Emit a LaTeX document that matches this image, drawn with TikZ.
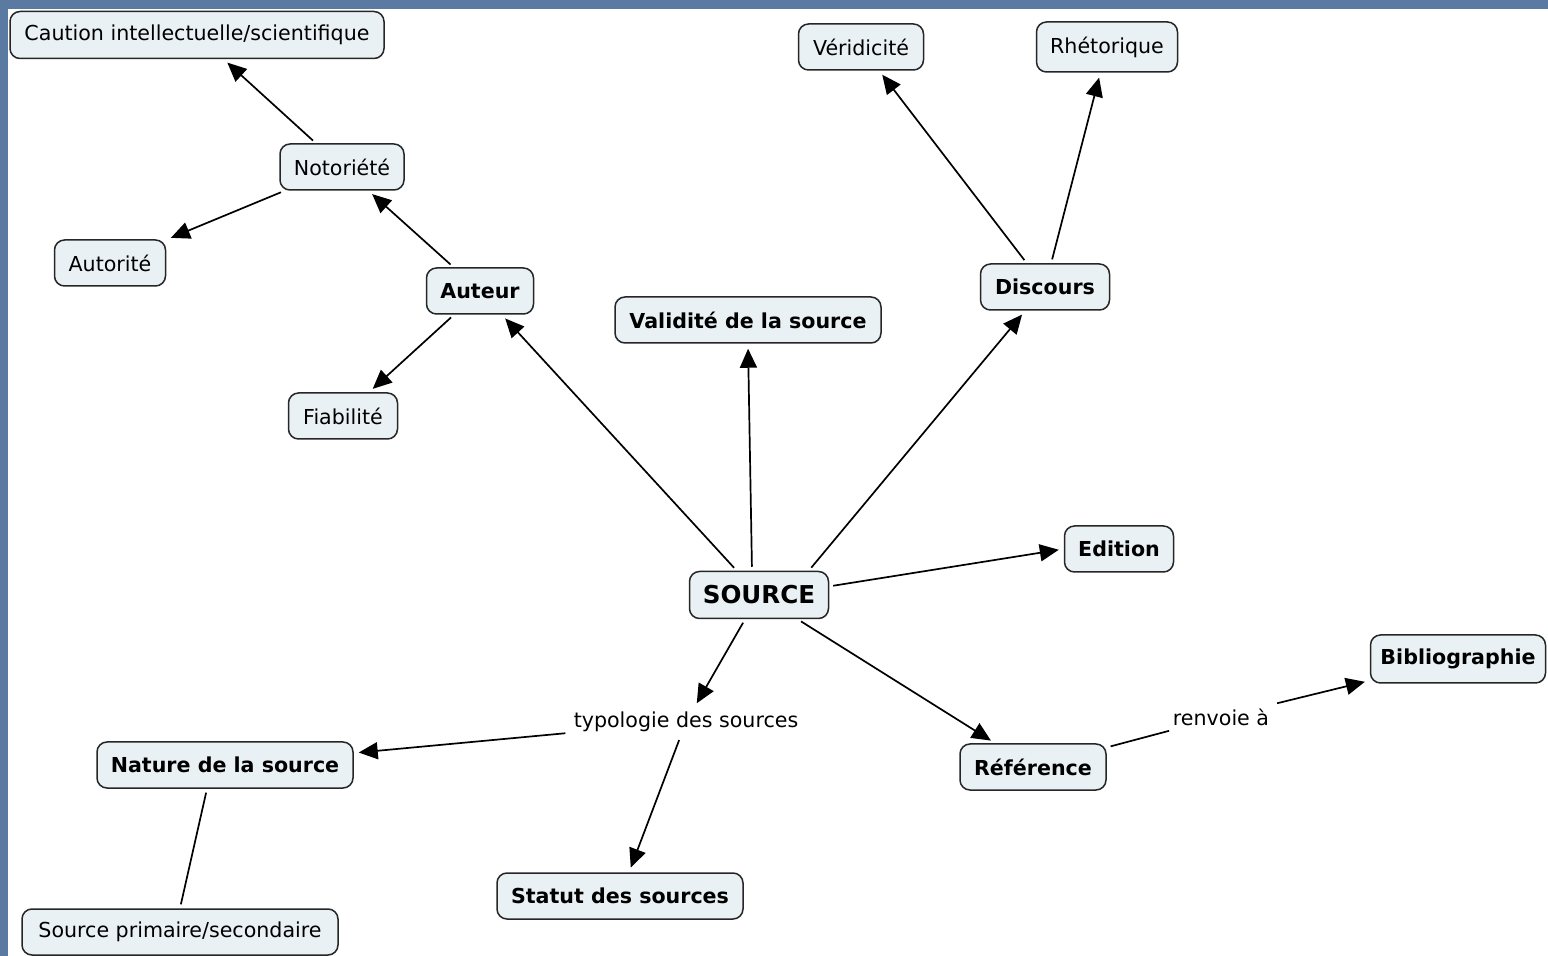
\documentclass[tikz,border=0pt]{standalone}
\usepackage{fontspec}
\setmainfont{DejaVu Sans}
\usepackage{tikz}
\usetikzlibrary{arrows.meta}

\definecolor{bandblue}{RGB}{90,122,162}
\definecolor{boxfill}{RGB}{234,241,245}
\definecolor{boxline}{RGB}{38,38,38}

\tikzset{
  concept/.style={draw=boxline, line width=0.75pt, fill=boxfill, rounded corners=5pt,
    minimum height=23pt, inner sep=2pt, font=\fontsize{10.3}{12}\selectfont},
  keyconcept/.style={concept, font=\fontsize{10.3}{12}\selectfont\bfseries},
  linkword/.style={inner sep=2pt, font=\fontsize{10.3}{12}\selectfont},
  link/.style={line width=0.85pt, -{Triangle[length=9.5pt,width=8.5pt]}, shorten <=2pt, shorten >=2.5pt},
  plainlink/.style={line width=0.85pt, shorten <=2pt, shorten >=2pt}
}

\begin{document}
\begin{tikzpicture}[x=0.5pt,y=-0.5pt]

        \fill[bandblue] (0,0) rectangle (1548,956);
        \fill[white] (8,9) rectangle (1548,956);
        \useasboundingbox (0,0) rectangle (1548,956);

        \node[keyconcept, minimum width=69.5pt, minimum height=23.5pt,
              font=\fontsize{12.3}{14}\selectfont\bfseries] (source) at (759,595) {SOURCE};

        \node[keyconcept, minimum width=53.5pt] (auteur) at (480,291) {Auteur};
        \node[keyconcept, minimum width=133pt] (validite) at (748,320) {Validité de la source};
        \node[keyconcept, minimum width=64.5pt] (discours) at (1045,287) {Discours};
        \node[keyconcept, minimum width=54.5pt] (edition) at (1119,549) {Edition};
        \node[keyconcept, minimum width=73pt] (reference) at (1033,767) {Référence};
        \node[keyconcept, minimum width=87.5pt, minimum height=24pt] (biblio) at (1458,659) {Bibliographie};
        \node[keyconcept, minimum width=128pt] (nature) at (225,765) {Nature de la source};
        \node[keyconcept, minimum width=123pt] (statut) at (620,896) {Statut des sources};

        \node[concept, minimum width=187pt, minimum height=23.5pt] (caution) at (197,35) {Caution intellectuelle/scientifique};
        \node[concept, minimum width=62pt] (notoriete) at (342,167) {Notoriété};
        \node[concept, minimum width=55.5pt] (autorite) at (110,263) {Autorité};
        \node[concept, minimum width=54.5pt] (fiabilite) at (343,416) {Fiabilité};
        \node[concept, minimum width=62.5pt] (veridicite) at (861,47) {Véridicité};
        \node[concept, minimum width=70.5pt, minimum height=25pt] (rhetorique) at (1107,47) {Rhétorique};
        \node[concept, minimum width=158pt] (primaire) at (180,932) {Source primaire/secondaire};

        \node[linkword] (typologie) at (686,722) {typologie des sources};
        \node[linkword] (renvoie) at (1221,717) {renvoie à};

        \foreach \from/\to in {source/auteur,source/reference,source/typologie,
                               typologie/nature,typologie/statut,
                               auteur/notoriete,auteur/fiabilite,notoriete/caution,notoriete/autorite,
                               discours/veridicite,discours/rhetorique,renvoie/biblio}
            { \draw[link] (\from) -- (\to); }

        \draw[link] ([xshift=-3.5pt]source.north) -- (validite.south);
        \draw[link] (source.26) -- (discours);
        \draw[link] (source.7) -- (edition.west);

        \draw[plainlink] (reference) -- (renvoie);
        \draw[plainlink] ([xshift=-9pt]nature.south) -- (primaire.north);
        % \draw[help lines] (0,0) grid[step=100] (1548,956);
    \end{tikzpicture}
\end{document}
